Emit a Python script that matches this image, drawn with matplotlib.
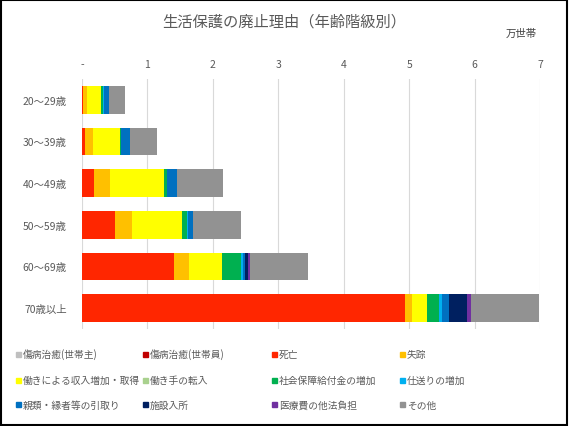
import matplotlib
matplotlib.use('Agg')
import matplotlib.pyplot as plt
import numpy as np
from matplotlib.patches import Rectangle

plt.rcParams['font.family'] = ['Noto Sans CJK JP', 'DejaVu Sans']

ages = ['20～29歳', '30～39歳', '40～49歳', '50～59歳', '60～69歳', '70歳以上']

# 万世帯, 年齢階級ごと
shobyo_nushi = [0, 0, 0, 0, 0, 0]
shobyo_in = [0, 0, 0, 0, 0, 0]
shibo = [0.01, 0.04, 0.18, 0.51, 1.41, 4.93]
shisso = [0.07, 0.125, 0.245, 0.255, 0.22, 0.11]
hataraki = [0.21, 0.415, 0.835, 0.765, 0.515, 0.23]
tennyu = [0, 0, 0, 0, 0, 0]
shakai = [0.03, 0.01, 0.045, 0.075, 0.28, 0.19]
shiokuri = [0.01, 0.0, 0.0, 0.02, 0.03, 0.04]
shinrui = [0.09, 0.145, 0.15, 0.065, 0.035, 0.115]
shisetsu = [0, 0, 0, 0, 0.05, 0.275]
iryo = [0, 0, 0, 0, 0.025, 0.06]
sonota = [0.235, 0.405, 0.695, 0.745, 0.89, 1.04]

names = ['傷病治癒(世帯主)', '傷病治癒(世帯員)', '死亡', '失踪',
         '働きによる収入増加・取得', '働き手の転入', '社会保障給付金の増加', '仕送りの増加',
         '親類・縁者等の引取り', '施設入所', '医療費の他法負担', 'その他']
series = [shobyo_nushi, shobyo_in, shibo, shisso, hataraki, tennyu,
          shakai, shiokuri, shinrui, shisetsu, iryo, sonota]
colors = ['#bfbfbf', '#c00000', '#ff2600', '#ffc000', '#ffff00', '#a9d18e',
          '#00b050', '#00b0f0', '#0070c0', '#002060', '#7030a0', '#929292']

fig = plt.figure(figsize=(5.69, 4.27), dpi=100)
ax = fig.add_axes([82 / 569, 1 - 330 / 427, 458 / 569, 250 / 427])

y = np.arange(len(ages))
left = np.zeros(len(ages))
for vals, c in zip(series, colors):
    ax.barh(y, vals, left=left, height=0.66, color=c, zorder=3)
    left += np.array(vals)

ax.set_xlim(0, 7)
ax.set_ylim(len(ages) - 0.5, -0.5)
ax.set_yticks(y)
ax.set_yticklabels(ages, fontsize=7.5, color='#595959')
ax.set_xticks(range(8))
ax.set_xticklabels(['-'] + [str(i) for i in range(1, 8)], fontsize=7.5, color='#595959')
ax.xaxis.tick_top()
ax.tick_params(axis='x', length=0, pad=7)
ax.tick_params(axis='y', length=0, pad=11)
ax.grid(axis='x', color='#d9d9d9', linewidth=0.8, zorder=0)
for s in ax.spines.values():
    s.set_visible(False)

fig.text(284.5 / 569, 1 - 22 / 427, '生活保護の廃止理由（年齢階級別）', ha='center', va='center',
         fontsize=11, color='#595959')
fig.text(537 / 569, 1 - 34 / 427, '万世帯', ha='right', va='center', fontsize=7.5, color='#404040')

# 凡例
col_x = [16, 143, 272, 400]
row_y = [355, 381, 405.5]
for i, (nm, c) in enumerate(zip(names, colors)):
    cx = col_x[i % 4]
    cy = row_y[i // 4]
    fig.add_artist(Rectangle((cx / 569, 1 - (cy + 2.5) / 427), 5 / 569, 5 / 427,
                             transform=fig.transFigure, color=c))
    fig.text((cx + 7) / 569, 1 - cy / 427, nm, ha='left', va='center', fontsize=7, color='#595959')

fig.add_artist(Rectangle((0.002, 0.002), 0.995, 0.995, transform=fig.transFigure,
                         fill=False, edgecolor='black', linewidth=1.5))

fig.savefig('out.png', dpi=100)
